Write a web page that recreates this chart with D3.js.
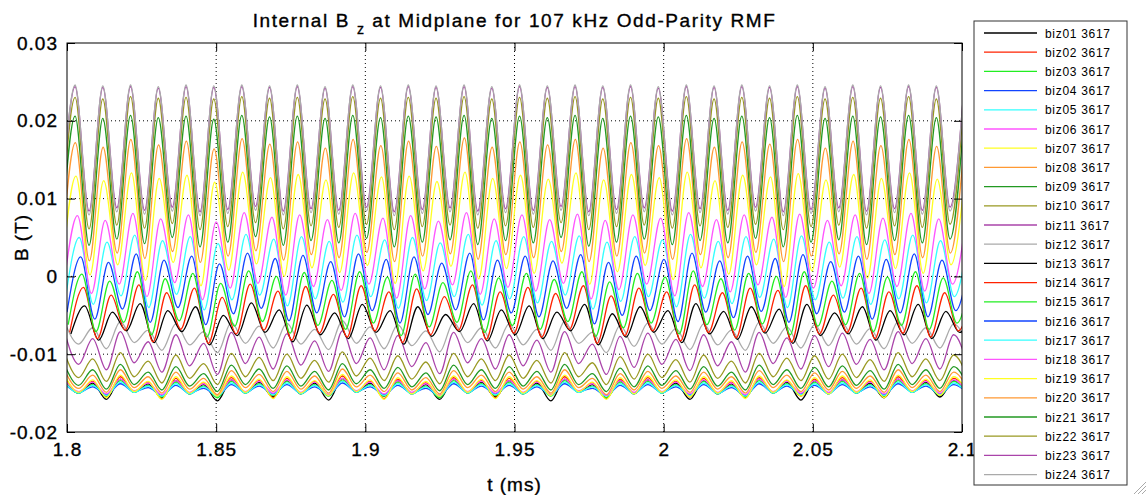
<!DOCTYPE html>
<html>
<head>
<meta charset="utf-8">
<script src="https://cdn.jsdelivr.net/npm/d3@7/dist/d3.min.js"></script>
<style>
  body { margin: 0; background: #fff; }
  svg { display: block; font-family: "Liberation Sans", Arial, sans-serif; }
  .heavy { stroke: #000; stroke-width: 0.35px; }
</style>
</head>
<body>
<svg id="chart"></svg>
<script>
const width = 1147;
const height = 495;
const margin = {left: 67, right: 185, top: 43, bottom: 63};
const chartWidth = width - margin.left - margin.right;   // 895
const chartHeight = height - margin.top - margin.bottom; // 389

// x ticks (ms) and y ticks (T)
const xTicks = [1.8, 1.85, 1.9, 1.95, 2, 2.05, 2.1];
const yTicks = [-0.02, -0.01, 0, 0.01, 0.02, 0.03];

// times (ms) of the oscillation extrema, trough then peak of each RMF cycle
const extremaTimes = [
  1.7981, 1.8027, 1.8074, 1.8120, 1.8167, 1.8213, 1.8260, 1.8306, 1.8353, 1.8399,
  1.8446, 1.8492, 1.8539, 1.8586, 1.8632, 1.8679, 1.8725, 1.8772, 1.8818, 1.8865,
  1.8911, 1.8958, 1.9004, 1.9051, 1.9097, 1.9144, 1.9191, 1.9237, 1.9284, 1.9331,
  1.9377, 1.9424, 1.9470, 1.9517, 1.9563, 1.9610, 1.9656, 1.9703, 1.9749, 1.9796,
  1.9842, 1.9889, 1.9935, 1.9982, 2.0029, 2.0076, 2.0122, 2.0169, 2.0215, 2.0262,
  2.0308, 2.0355, 2.0401, 2.0448, 2.0494, 2.0541, 2.0587, 2.0634, 2.0680, 2.0727,
  2.0774, 2.0821, 2.0867, 2.0914, 2.0960, 2.1007
];

const seriesNames = [
  'biz01 3617', 'biz02 3617', 'biz03 3617', 'biz04 3617', 'biz05 3617', 'biz06 3617',
  'biz07 3617', 'biz08 3617', 'biz09 3617', 'biz10 3617', 'biz11 3617', 'biz12 3617',
  'biz13 3617', 'biz14 3617', 'biz15 3617', 'biz16 3617', 'biz17 3617', 'biz18 3617',
  'biz19 3617', 'biz20 3617', 'biz21 3617', 'biz22 3617', 'biz23 3617', 'biz24 3617'
];

// phase lag of each probe relative to the extrema times (microseconds)
const seriesLagUs = [
  1.2, 1.2, 1.2, 1.2, 1.2, 1.2, 1.2, 1.2, 1.2, 1.2, 1.2, 1.2,
  3.2, 2.8, 2.3, 1.9, 1.4, 0.8, 0.3, 0.1, 0, 0, 0, 0
];

// field values in mT at extremaTimes
const biz01 = [-13.3,-15.0, -13.7,-15.8, -13.2,-14.9, -13.8,-15.6, -13.4,-15.1, -13.9,-16.0, -13.3,-15.0, -13.6,-15.5, -13.4,-15.1, -13.7,-15.9, -13.1,-14.9, -13.7,-15.4, -13.4,-15.1, -13.9,-15.8, -13.2,-15.0, -13.6,-15.5, -13.4,-15.1, -13.7,-16.0, -13.2,-14.9, -13.9,-15.6, -13.4,-15.1, -13.3,-15.0, -13.7,-15.8, -13.4,-15.1, -13.8,-15.5, -13.2,-15.0, -13.6,-15.9, -13.4,-15.1, -13.3,-15.0, -13.7,-15.6, -13.2,-14.9, -13.6,-15.5, -13.4,-15.1];
const biz02 = [-13.0,-14.9, -13.5,-15.5, -12.9,-14.8, -13.6,-15.7, -13.1,-15.0, -13.7,-15.4, -13.0,-14.9, -13.4,-15.6, -13.1,-15.0, -13.5,-15.3, -12.8,-14.8, -13.5,-15.7, -13.2,-15.0, -13.7,-15.4, -13.0,-14.9, -13.4,-15.6, -13.1,-15.0, -13.5,-15.3, -12.9,-14.8, -13.7,-15.7, -13.2,-15.0, -13.0,-14.9, -13.5,-15.5, -13.1,-15.0, -13.6,-15.6, -13.0,-14.9, -13.4,-15.4, -13.2,-15.0, -13.0,-14.9, -13.5,-15.5, -12.9,-14.8, -13.4,-15.3, -13.1,-15.0];
const biz03 = [-13.5,-15.0, -13.9,-15.4, -13.4,-14.9, -14.0,-15.5, -13.6,-15.1, -14.1,-15.6, -13.5,-15.0, -13.8,-15.3, -13.5,-15.1, -13.9,-15.4, -13.3,-14.9, -13.9,-15.4, -13.6,-15.1, -14.1,-15.6, -13.4,-15.0, -13.8,-15.3, -13.6,-15.1, -13.9,-15.4, -13.4,-14.9, -14.1,-15.6, -13.6,-15.1, -13.5,-15.0, -13.9,-15.4, -13.5,-15.1, -14.0,-15.5, -13.4,-15.0, -13.8,-15.3, -13.6,-15.1, -13.5,-15.0, -13.9,-15.4, -13.4,-14.9, -13.8,-15.3, -13.5,-15.1];
const biz04 = [-13.9,-14.9, -14.2,-15.2, -13.8,-14.8, -14.3,-15.3, -14.0,-15.0, -14.4,-15.3, -13.9,-14.9, -14.1,-15.1, -13.9,-15.0, -14.2,-15.2, -13.7,-14.8, -14.2,-15.2, -14.0,-15.0, -14.4,-15.3, -13.8,-14.9, -14.1,-15.1, -14.0,-15.0, -14.2,-15.2, -13.8,-14.8, -14.4,-15.3, -14.0,-15.0, -13.9,-14.9, -14.2,-15.2, -13.9,-15.0, -14.3,-15.3, -13.8,-14.9, -14.1,-15.1, -14.0,-15.0, -13.9,-14.9, -14.2,-15.2, -13.8,-14.8, -14.1,-15.1, -13.9,-15.0];
const biz05 = [-13.7,-15.0, -14.0,-15.3, -13.6,-14.9, -14.1,-15.4, -13.8,-15.1, -14.2,-15.4, -13.7,-15.0, -13.9,-15.2, -13.7,-15.1, -14.0,-15.3, -13.5,-14.9, -14.0,-15.3, -13.8,-15.1, -14.2,-15.4, -13.6,-15.0, -13.9,-15.2, -13.8,-15.1, -14.0,-15.3, -13.6,-14.9, -14.2,-15.4, -13.8,-15.1, -13.7,-15.0, -14.0,-15.3, -13.7,-15.1, -14.1,-15.4, -13.6,-15.0, -13.9,-15.2, -13.8,-15.1, -13.7,-15.0, -14.0,-15.3, -13.6,-14.9, -13.9,-15.2, -13.7,-15.1];
const biz06 = [-13.3,-14.8, -13.6,-15.1, -13.2,-14.7, -13.7,-15.2, -13.4,-14.9, -13.8,-15.3, -13.3,-14.8, -13.5,-15.0, -13.3,-14.9, -13.6,-15.2, -13.1,-14.7, -13.6,-15.1, -13.4,-14.9, -13.8,-15.3, -13.2,-14.8, -13.5,-15.0, -13.4,-14.9, -13.6,-15.2, -13.2,-14.7, -13.8,-15.3, -13.4,-14.9, -13.3,-14.8, -13.6,-15.1, -13.3,-14.9, -13.7,-15.2, -13.2,-14.8, -13.5,-15.0, -13.4,-14.9, -13.3,-14.8, -13.6,-15.1, -13.2,-14.7, -13.5,-15.0, -13.3,-14.9];
const biz07 = [-12.8,-14.9, -13.3,-15.6, -12.7,-14.8, -13.5,-15.8, -12.9,-15.0, -13.6,-15.4, -12.8,-14.9, -13.2,-15.7, -12.9,-15.0, -13.4,-15.3, -12.6,-14.8, -13.3,-15.8, -13.0,-15.1, -13.5,-15.4, -12.8,-14.9, -13.2,-15.7, -12.9,-15.0, -13.4,-15.3, -12.7,-14.8, -13.6,-15.8, -13.0,-15.1, -12.8,-14.9, -13.3,-15.5, -12.9,-15.0, -13.4,-15.7, -12.8,-14.9, -13.3,-15.4, -13.0,-15.1, -12.8,-14.9, -13.3,-15.6, -12.7,-14.8, -13.2,-15.3, -12.9,-15.0];
const biz08 = [-12.2,-14.4, -12.7,-14.9, -12.0,-14.3, -12.9,-15.0, -12.3,-14.5, -13.1,-15.2, -12.1,-14.3, -12.6,-14.8, -12.2,-14.5, -12.8,-15.0, -11.9,-14.2, -12.7,-14.8, -12.4,-14.6, -13.0,-15.1, -12.1,-14.3, -12.7,-14.8, -12.3,-14.5, -12.9,-15.0, -12.0,-14.3, -13.1,-15.2, -12.5,-14.6, -12.2,-14.4, -12.8,-14.9, -12.3,-14.5, -12.9,-15.0, -12.1,-14.3, -12.7,-14.8, -12.4,-14.6, -12.2,-14.4, -12.8,-14.9, -12.0,-14.3, -12.7,-14.8, -12.3,-14.5];
const biz09 = [-11.5,-14.0, -12.0,-14.5, -11.3,-13.9, -12.3,-14.6, -11.6,-14.1, -12.5,-14.8, -11.4,-13.9, -11.9,-14.4, -11.5,-14.1, -12.2,-14.6, -11.2,-13.8, -12.0,-14.4, -11.7,-14.2, -12.4,-14.7, -11.4,-13.9, -12.0,-14.4, -11.6,-14.1, -12.2,-14.6, -11.3,-13.9, -12.5,-14.8, -11.8,-14.2, -11.5,-14.0, -12.1,-14.5, -11.6,-14.1, -12.3,-14.6, -11.4,-13.9, -12.0,-14.4, -11.7,-14.2, -11.5,-14.0, -12.1,-14.5, -11.3,-13.9, -12.0,-14.4, -11.6,-14.1];
const biz10 = [-10.0,-13.0, -10.6,-13.5, -9.8,-12.9, -10.9,-13.7, -10.1,-13.1, -11.2,-13.9, -9.9,-12.9, -10.4,-13.4, -10.0,-13.1, -10.8,-13.6, -9.7,-12.8, -10.5,-13.4, -10.2,-13.2, -11.0,-13.8, -9.9,-12.9, -10.6,-13.4, -10.1,-13.1, -10.8,-13.7, -9.8,-12.9, -11.1,-13.9, -10.3,-13.2, -10.0,-13.0, -10.7,-13.6, -10.1,-13.1, -10.9,-13.7, -9.9,-12.9, -10.5,-13.4, -10.2,-13.2, -10.0,-13.0, -10.7,-13.5, -9.8,-12.9, -10.6,-13.4, -10.1,-13.1];
const biz11 = [-7.3,-11.3, -8.0,-12.0, -7.1,-11.1, -8.4,-12.3, -7.5,-11.5, -8.6,-12.6, -7.2,-11.2, -7.8,-11.9, -7.4,-11.4, -8.3,-12.2, -7.0,-11.2, -7.9,-12.0, -7.6,-11.6, -8.5,-12.5, -7.2,-11.1, -8.0,-11.9, -7.5,-11.5, -8.2,-12.3, -7.1,-11.2, -8.7,-12.6, -7.7,-11.7, -7.3,-11.3, -8.1,-12.1, -7.5,-11.5, -8.4,-12.3, -7.2,-11.2, -7.9,-11.9, -7.6,-11.6, -7.3,-11.3, -8.1,-12.0, -7.1,-11.2, -8.0,-11.9, -7.5,-11.5];
const biz12 = [-6.0,-8.7, -6.6,-9.3, -5.8,-8.5, -6.9,-9.5, -6.1,-8.8, -7.1,-9.8, -5.9,-8.6, -6.4,-9.2, -6.0,-8.7, -6.8,-9.4, -5.7,-8.6, -6.5,-9.3, -6.2,-8.9, -7.0,-9.7, -5.9,-8.5, -6.6,-9.2, -6.1,-8.8, -6.8,-9.5, -5.8,-8.6, -7.2,-9.8, -6.3,-9.0, -6.0,-8.7, -6.7,-9.4, -6.1,-8.8, -6.9,-9.5, -5.9,-8.6, -6.5,-9.2, -6.2,-8.9, -6.0,-8.7, -6.7,-9.3, -5.8,-8.6, -6.6,-9.2, -6.1,-8.8];
const biz13 = [-7.4,-3.8, -8.2,-4.6, -7.0,-3.5, -8.5,-4.4, -7.1,-3.9, -8.8,-5.0, -7.6,-3.4, -7.2,-4.3, -8.4,-3.7, -7.5,-4.7, -8.0,-3.6, -7.2,-4.4, -8.7,-3.9, -7.7,-4.9, -7.1,-3.5, -8.3,-4.3, -7.5,-3.8, -8.0,-4.6, -7.0,-3.6, -8.8,-4.8, -7.8,-3.9, -7.2,-4.4, -8.5,-3.5, -7.4,-4.5, -8.1,-3.9, -7.3,-4.2, -8.6,-3.6, -7.6,-4.7, -7.4,-3.9, -8.2,-4.4, -7.5,-3.6, -8.0,-4.5, -7.2,-4.0];
const biz14 = [-7.2,-1.4, -8.0,-2.4, -6.9,-1.1, -8.4,-2.1, -6.8,-1.5, -8.6,-2.7, -7.4,-1.0, -6.9,-1.9, -8.2,-1.3, -7.3,-2.3, -7.8,-1.2, -7.0,-2.0, -8.5,-1.6, -7.5,-2.6, -6.9,-1.1, -8.1,-2.0, -7.3,-1.4, -7.8,-2.2, -6.8,-1.2, -8.6,-2.5, -7.6,-1.5, -7.0,-2.0, -8.3,-1.1, -7.2,-2.1, -7.9,-1.5, -7.1,-1.8, -8.4,-1.2, -7.4,-2.4, -7.2,-1.5, -8.0,-2.0, -7.3,-1.2, -7.8,-2.1, -7.0,-1.6];
const biz15 = [-6.2,0.3, -7.1,-0.6, -5.9,0.6, -7.5,-0.3, -5.7,0.4, -7.8,-0.9, -6.4,0.7, -5.8,0.0, -7.3,0.5, -6.3,-0.5, -6.8,0.6, -6.0,-0.1, -7.6,0.3, -6.5,-0.8, -5.9,0.7, -7.2,-0.2, -6.3,0.4, -6.8,-0.4, -5.8,0.6, -7.7,-0.7, -6.6,0.4, -6.0,-0.1, -7.4,0.7, -6.2,-0.3, -6.9,0.4, -6.1,0.0, -7.5,0.6, -6.4,-0.6, -6.2,0.4, -7.1,-0.1, -6.3,0.6, -6.8,-0.2, -6.0,0.3];
const biz16 = [-4.6,2.5, -5.5,1.8, -4.2,2.9, -5.9,2.1, -4.0,2.6, -6.2,1.6, -4.8,3.0, -4.1,2.3, -5.7,2.7, -4.7,1.9, -5.2,2.9, -4.4,2.2, -6.0,2.5, -4.9,1.7, -4.3,3.0, -5.6,2.1, -4.7,2.6, -5.2,2.0, -4.1,2.8, -6.1,1.8, -5.0,2.6, -4.4,2.2, -5.8,3.0, -4.6,2.0, -5.3,2.6, -4.5,2.3, -5.9,2.8, -4.8,1.9, -4.6,2.6, -5.5,2.2, -4.7,2.9, -5.2,2.1, -4.4,2.5];
const biz17 = [-2.8,5.0, -3.6,4.4, -2.5,5.3, -4.0,4.6, -2.3,5.1, -4.3,4.2, -3.0,5.4, -2.4,4.8, -3.8,5.1, -2.9,4.5, -3.3,5.3, -2.6,4.7, -4.1,5.0, -3.1,4.3, -2.6,5.4, -3.7,4.6, -2.9,5.1, -3.4,4.5, -2.4,5.2, -4.2,4.4, -3.2,5.1, -2.6,4.7, -3.9,5.4, -2.8,4.5, -3.5,5.1, -2.7,4.8, -4.0,5.2, -3.0,4.4, -2.8,5.1, -3.6,4.7, -2.9,5.3, -3.4,4.6, -2.6,5.0];
const biz18 = [-1.2,7.8, -2.2,7.2, -1.0,8.1, -2.6,7.4, -0.8,7.9, -3.0,7.0, -1.5,8.2, -0.9,7.6, -2.4,7.9, -1.3,7.3, -1.8,8.1, -1.0,7.5, -2.8,7.8, -1.6,7.1, -1.1,8.2, -2.3,7.4, -1.4,7.9, -1.9,7.3, -0.9,8.0, -2.9,7.2, -1.7,7.9, -1.0,7.5, -2.5,8.2, -1.3,7.3, -2.0,7.9, -1.1,7.6, -2.7,8.0, -1.5,7.2, -1.2,7.9, -2.2,7.5, -1.3,8.1, -1.9,7.4, -1.0,7.8];
const biz19 = [1.2,12.9, 0.2,12.3, 1.5,13.3, -0.5,12.6, 1.8,13.0, -1.2,12.1, 0.8,13.4, 1.6,12.7, 0.0,13.1, 1.1,12.4, 0.5,13.3, 1.4,12.8, -0.9,12.9, 0.7,12.2, 1.3,13.4, -0.3,12.6, 1.0,13.0, 0.4,12.5, 1.7,13.3, -1.0,12.4, 0.6,13.1, 1.4,12.7, -0.4,13.4, 1.1,12.3, 0.3,13.0, 1.5,12.8, -1.3,13.2, 0.7,12.4, 1.2,13.1, -0.2,12.6, 1.0,13.3, 0.4,12.5, 1.5,13.0];
const biz20 = [2.8,17.2, 2.0,16.6, 3.0,17.6, 2.3,16.9, 3.2,17.4, 1.8,16.4, 2.6,17.7, 3.3,17.0, 2.1,17.3, 2.8,16.5, 2.4,17.6, 3.1,16.8, 1.9,17.4, 2.6,16.7, 2.9,17.8, 2.2,16.6, 2.8,17.3, 2.4,16.9, 3.2,17.6, 1.9,16.5, 2.6,17.2, 3.0,16.8, 2.2,17.7, 2.8,16.6, 2.4,17.3, 3.1,17.0, 1.9,17.6, 2.6,16.5, 2.9,17.4, 2.2,16.8, 2.8,17.6, 2.4,16.7, 3.0,17.3];
const biz21 = [4.6,20.6, 4.0,20.3, 4.8,20.7, 4.2,20.4, 5.0,20.6, 3.8,20.2, 4.4,20.7, 5.1,20.5, 4.0,20.6, 4.6,20.3, 4.3,20.7, 4.9,20.4, 3.8,20.6, 4.4,20.5, 4.7,20.7, 4.1,20.3, 4.6,20.6, 4.3,20.4, 5.0,20.7, 3.9,20.3, 4.4,20.6, 4.8,20.5, 4.1,20.7, 4.6,20.3, 4.3,20.6, 4.9,20.4, 3.8,20.7, 4.4,20.3, 4.7,20.6, 4.1,20.5, 4.6,20.7, 4.3,20.4, 4.8,20.6];
const biz22 = [6.5,23.0, 6.1,22.8, 6.6,23.1, 6.2,22.9, 6.8,23.0, 6.0,22.8, 6.4,23.1, 6.9,22.9, 6.1,23.0, 6.5,22.8, 6.3,23.1, 6.7,22.9, 6.0,23.0, 6.4,22.9, 6.6,23.1, 6.2,22.8, 6.5,23.0, 6.3,22.9, 6.9,23.1, 6.0,22.8, 6.4,23.0, 6.6,22.9, 6.2,23.1, 6.5,22.8, 6.3,23.0, 6.7,22.9, 6.0,23.1, 6.4,22.8, 6.6,23.0, 6.2,22.9, 6.5,23.1, 6.3,22.8, 6.7,23.0];
const biz23 = [8.7,24.4, 8.4,24.3, 8.8,24.4, 8.5,24.2, 8.9,24.4, 8.3,24.3, 8.6,24.4, 9.0,24.3, 8.4,24.4, 8.7,24.2, 8.5,24.4, 8.9,24.3, 8.3,24.4, 8.6,24.3, 8.8,24.4, 8.4,24.2, 8.7,24.4, 8.5,24.3, 9.0,24.4, 8.3,24.3, 8.6,24.4, 8.8,24.2, 8.4,24.4, 8.7,24.3, 8.5,24.4, 8.9,24.3, 8.3,24.4, 8.6,24.2, 8.8,24.4, 8.4,24.3, 8.7,24.4, 8.5,24.3, 8.9,24.4];
const biz24 = [8.2,24.6, 7.9,24.5, 8.3,24.6, 8.0,24.4, 8.4,24.6, 7.8,24.5, 8.1,24.6, 8.5,24.5, 7.9,24.6, 8.2,24.4, 8.0,24.6, 8.4,24.5, 7.8,24.6, 8.1,24.5, 8.3,24.6, 7.9,24.4, 8.2,24.6, 8.0,24.5, 8.5,24.6, 7.8,24.5, 8.1,24.6, 8.3,24.4, 7.9,24.6, 8.2,24.5, 8.0,24.6, 8.4,24.5, 7.8,24.6, 8.1,24.4, 8.3,24.6, 7.9,24.5, 8.2,24.6, 8.0,24.5, 8.4,24.6];

const seriesValues = [biz01, biz02, biz03, biz04, biz05, biz06, biz07, biz08, biz09, biz10, biz11, biz12,
  biz13, biz14, biz15, biz16, biz17, biz18, biz19, biz20, biz21, biz22, biz23, biz24];

// matlab-ish colour cycle, repeats every 12 probes
const lineColors = ['#000000', '#ff2200', '#22ee22', '#1144ff', '#33ffff', '#ff55ff',
  '#ffff22', '#ff9933', '#229922', '#999922', '#aa44aa', '#aaaaaa'];

const labelFont = '"Liberation Sans", Arial, sans-serif';

const svg = d3.select('#chart')
  .attr('width', width)
  .attr('height', height);

const xScale = d3.scaleLinear().domain([1.8, 2.1]).range([0, chartWidth]);
const yScale = d3.scaleLinear().domain([-0.02, 0.03]).range([chartHeight, 0]);

const plot = svg.append('g')
  .attr('transform', `translate(${margin.left}, ${margin.top})`);

svg.append('defs').append('clipPath')
  .attr('id', 'plotClip')
  .append('rect')
  .attr('width', chartWidth)
  .attr('height', chartHeight);

// dotted grid
plot.append('g')
  .selectAll('line')
  .data(xTicks.slice(1, -1))
  .enter()
  .append('line')
  .attr('x1', d => xScale(d)).attr('x2', d => xScale(d))
  .attr('y1', 0).attr('y2', chartHeight)
  .attr('stroke', '#000').attr('stroke-dasharray', '1,3');
plot.append('g')
  .selectAll('line')
  .data(yTicks.slice(1, -1))
  .enter()
  .append('line')
  .attr('y1', d => yScale(d)).attr('y2', d => yScale(d))
  .attr('x1', 0).attr('x2', chartWidth)
  .attr('stroke', '#000').attr('stroke-dasharray', '1,3');

// signals
const lineGen = d3.line()
  .x(d => xScale(d[0]))
  .y(d => yScale(d[1]))
  .curve(d3.curveMonotoneX);

const traces = plot.append('g').attr('clip-path', 'url(#plotClip)');
seriesValues.forEach((vals, i) => {
  const pts = vals.slice(0, extremaTimes.length)
    .map((v, j) => [extremaTimes[j] + seriesLagUs[i] / 1000, v / 1000]);
  traces.append('path')
    .datum(pts)
    .attr('d', lineGen)
    .attr('fill', 'none')
    .attr('stroke', lineColors[i % 12])
    .attr('stroke-width', 1.3)
    .attr('stroke-linejoin', 'round');
});

// axes with inward ticks on all four sides
const tickLen = 8;
const xAxis = d3.axisBottom(xScale).tickValues(xTicks).tickFormat(d => String(d))
  .tickSizeInner(-tickLen).tickSizeOuter(0).tickPadding(11);
const yAxis = d3.axisLeft(yScale).tickValues(yTicks).tickFormat(d => String(d))
  .tickSizeInner(-tickLen).tickSizeOuter(0).tickPadding(9);

const gx = plot.append('g').attr('transform', `translate(0, ${chartHeight})`).call(xAxis);
const gy = plot.append('g').call(yAxis);
plot.append('g').call(d3.axisTop(xScale).tickValues(xTicks).tickFormat('').tickSizeInner(-tickLen).tickSizeOuter(0));
plot.append('g').attr('transform', `translate(${chartWidth}, 0)`)
  .call(d3.axisRight(yScale).tickValues(yTicks).tickFormat('').tickSizeInner(-tickLen).tickSizeOuter(0));

plot.selectAll('.domain').remove();
plot.selectAll('.tick line').attr('stroke', '#000');
[gx, gy].forEach(g => g.selectAll('text')
  .attr('fill', '#000')
  .attr('class', 'heavy')
  .style('font-size', '19px')
  .style('letter-spacing', '1px')
  .style('font-family', labelFont));
gx.selectAll('text').attr('dy', '0.71em');

plot.append('rect')
  .attr('width', chartWidth)
  .attr('height', chartHeight)
  .attr('fill', 'none')
  .attr('stroke', '#000')
  .attr('stroke-width', 1);

// title and axis labels
const title = svg.append('text')
  .attr('class', 'heavy')
  .attr('x', margin.left + chartWidth / 2)
  .attr('y', 27)
  .attr('text-anchor', 'middle')
  .style('font-size', '19px')
  .style('letter-spacing', '1.6px')
  .attr('fill', '#000');
title.append('tspan').text('Internal B ');
title.append('tspan').attr('dy', 7).style('font-size', '14px').text('z');
title.append('tspan').attr('dy', -7).text(' at Midplane for 107 kHz Odd-Parity RMF');

svg.append('text')
  .attr('class', 'heavy')
  .attr('x', margin.left + chartWidth / 2)
  .attr('y', 491)
  .attr('text-anchor', 'middle')
  .style('font-size', '19px')
  .style('letter-spacing', '1px')
  .text('t (ms)');

svg.append('text')
  .attr('class', 'heavy')
  .attr('transform', `translate(28, ${margin.top + chartHeight / 2}) rotate(-90)`)
  .attr('text-anchor', 'middle')
  .style('font-size', '19px')
  .style('letter-spacing', '1px')
  .text('B (T)');

// legend
const legendX = 974;
const legendY = 21;
const rowGap = 19.2;
const legend = svg.append('g').attr('transform', `translate(${legendX}, ${legendY})`);
legend.append('rect')
  .attr('width', 153)
  .attr('height', 464)
  .attr('fill', '#fff')
  .attr('stroke', '#333');
const rows = legend.selectAll('g.row')
  .data(seriesNames)
  .enter()
  .append('g')
  .attr('class', 'row')
  .attr('transform', (d, i) => `translate(0, ${12 + i * rowGap})`);
rows.append('line')
  .attr('x1', 10).attr('x2', 63)
  .attr('stroke', (d, i) => lineColors[i % 12])
  .attr('stroke-width', 1.3);
rows.append('text')
  .attr('x', 71)
  .attr('y', 4.5)
  .style('font-size', '12px')
  .style('letter-spacing', '0.7px')
  .text(d => d);

// window resize grip
const grip = svg.append('g').attr('stroke', '#aaa').attr('stroke-width', 1);
[[1134, 494, 1146, 482], [1138, 494, 1146, 486], [1142, 494, 1146, 490]].forEach(s => {
  grip.append('line').attr('x1', s[0]).attr('y1', s[1]).attr('x2', s[2]).attr('y2', s[3]);
});
</script>
</body>
</html>
